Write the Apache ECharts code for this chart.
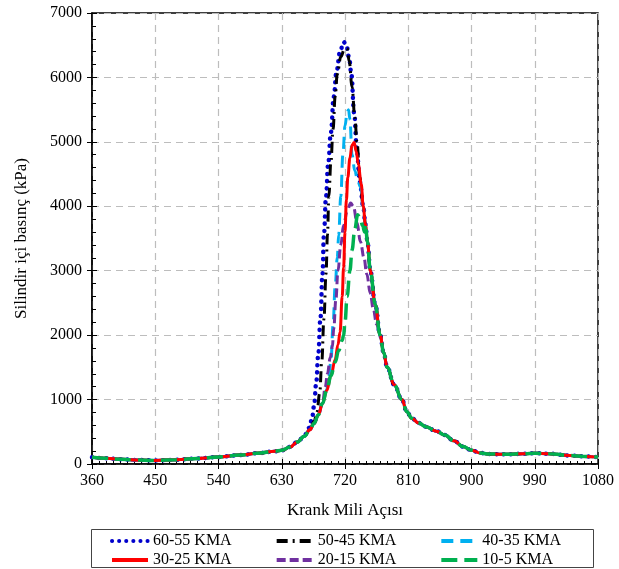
<!DOCTYPE html>
<html>
<head>
<meta charset="utf-8">
<script src="https://cdn.jsdelivr.net/npm/echarts@6/dist/echarts.min.js"></script>
<style>
  html, body { margin: 0; padding: 0; background: #fff; }
  #chart { width: 619px; height: 569px; }
</style>
</head>
<body>
<div id="chart"></div>
<script>
// Crank angle (deg) vs in-cylinder pressure (kPa)
const xTicks = [360, 450, 540, 630, 720, 810, 900, 990, 1080];
const yTicks = [0, 1000, 2000, 3000, 4000, 5000, 6000, 7000];

// Compression stroke shared by all injection timings
const baseRise = [
  [360,104],[380,88],[400,74],[420,63],[450,55],[480,66],[510,86],[540,110],
  [570,138],[600,172],[620,198],[630,212],[642,265],[652,340],[662,430],
  [670,530],[676,630],[682,760],[688,940],[694,1140],[700,1370],[706,1580],
  [711,1760],[716,1920]
];

// Expansion stroke shared by all injection timings
const sharedFall = [
  [746,4000],[749,3720],[752,3450],[756,3000],[763,2480],[770,2000],[775,1730],
  [780,1500],[790,1230],[801,1000],[808,810],[815,710],[825,635],[835,580],
  [850,510],[862,450],[875,360],[888,270],[900,215],[912,172],[925,155],
  [950,150],[975,160],[990,168],[1010,160],[1040,132],[1060,118],[1080,108]
];

// Combustion region of each timing
const peak6055 = [
  [665,470],[669,560],[673,700],[676,900],[679,1250],[682,1700],[685,2250],
  [688,2950],[690,3550],[693,4150],[696,4650],[700,5150],[704,5700],[708,6100],
  [713,6400],[718,6550],[722,6500],[726,6300],[729,6050],[733,5450],[737,4850],
  [741,4380]
];
const peak5045 = [
  [676,660],[680,800],[684,1100],[687,1600],[690,2250],[693,2950],[695,3550],
  [697,4150],[700,4700],[703,5200],[706,5700],[709,6050],[714,6320],[719,6430],
  [723,6450],[726,6250],[730,5850],[734,5380],[737,5000],[741,4450]
];
const peak4035 = [
  [694,1150],[697,1350],[700,1600],[703,2150],[706,2750],[709,3200],[711,3550],
  [714,4150],[717,4800],[720,5250],[723,5450],[725,5500],[727,5350],[730,4800],
  [734,4550],[738,4400],[742,4300]
];
const peak3025 = [
  [700,1370],[706,1620],[710,1850],[713,2050],[716,2600],[718,3050],[720,3600],
  [722,4100],[724,4450],[727,4750],[730,4950],[733,4990],[736,4850],[739,4650],
  [743,4350]
];
const peak2015 = [
  [688,950],[692,1200],[695,1400],[699,1650],[702,1820],[704,2100],[707,2550],
  [710,3000],[714,3400],[718,3700],[723,3920],[728,4050],[732,4000],[737,3750],
  [742,3450],[747,3200],[751,2950],[756,2650],[760,2420],[765,2170]
];
const peak105 = [
  [716,1920],[718,2000],[720,2200],[723,2600],[727,3000],[730,3320],[734,3650],
  [738,3870],[742,3800],[745,3700],[748,3600]
];

function curve(peak) {
  const a = peak[0][0], b = peak[peak.length - 1][0];
  return baseRise.filter(p => p[0] < a).concat(peak, sharedFall.filter(p => p[0] > b));
}

const serif = 'Liberation Serif, Times New Roman, serif';

function lineSeries(name, peak, color, type, width, cap) {
  return {
    name: name,
    type: 'line',
    data: curve(peak),
    showSymbol: false,
    symbol: 'circle',
    symbolSize: 0,
    smooth: 0.4,
    smoothMonotone: 'x',
    xAxisIndex: 0,
    yAxisIndex: 0,
    lineStyle: { color: color, width: width, type: type, cap: cap || 'butt' },
    itemStyle: { color: color }
  };
}

const series = [
  lineSeries('60-55 KMA', peak6055, '#0000CC', [0.1, 7], 4.5, 'round'),
  lineSeries('50-45 KMA', peak5045, '#000000', [11, 5, 2, 5], 3),
  lineSeries('40-35 KMA', peak4035, '#00B0F0', [12, 7], 3),
  lineSeries('20-15 KMA', peak2015, '#7030A0', [9, 4], 3),
  lineSeries('30-25 KMA', peak3025, '#FF0000', 'solid', 3),
  lineSeries('10-5 KMA', peak105, '#00B050', [16, 7], 3.5)
];

const legendCommon = {
  left: 105,
  itemWidth: 36,
  itemHeight: 12,
  itemGap: 43,
  itemStyle: { opacity: 0 },
  lineStyle: { width: 4 },
  textStyle: { fontFamily: serif, fontSize: 16, color: '#000' }
};

const chart = echarts.init(document.getElementById('chart'), null, { renderer: 'canvas' });
chart.setOption({
  animation: false,
  backgroundColor: '#fff',
  grid: {
    left: 92, right: 21, top: 13, bottom: 105,
    show: true, borderColor: '#000', borderWidth: 1.5
  },
  legend: [
    Object.assign({}, legendCommon, { top: 528, data: ['60-55 KMA', '50-45 KMA', '40-35 KMA'] }),
    Object.assign({}, legendCommon, { top: 547, data: ['30-25 KMA', '20-15 KMA', '10-5 KMA'] })
  ],
  graphic: [{
    type: 'rect',
    shape: { x: 91.5, y: 529.5, width: 502, height: 38 },
    style: { fill: 'none', stroke: '#444', lineWidth: 1 },
    silent: true
  }],
  xAxis: [{
    type: 'value',
    min: xTicks[0], max: xTicks[xTicks.length - 1], interval: 90,
    name: 'Krank Mili Açısı',
    nameLocation: 'middle', nameGap: 38,
    nameTextStyle: { fontFamily: serif, fontSize: 17, color: '#000' },
    axisLine: { show: true, onZero: false, lineStyle: { color: '#000', width: 1.5 } },
    axisTick: { show: true, inside: false, length: 5, lineStyle: { color: '#000', width: 1 } },
    axisLabel: { fontFamily: serif, fontSize: 16, color: '#000', margin: 9,
      formatter: v => xTicks.includes(v) ? String(v) : '' },
    splitLine: { show: true, lineStyle: { color: '#BDBDBD', type: [7, 5], width: 1.2 } }
  }, {
    type: 'value', position: 'bottom',
    min: xTicks[0], max: xTicks[xTicks.length - 1], interval: 90,
    axisLine: { show: false },
    axisTick: { show: true, inside: true, length: 5, lineStyle: { color: '#000', width: 1 } },
    minorTick: { show: true, splitNumber: 9, length: 3, lineStyle: { color: '#000', width: 1 } },
    axisLabel: { show: false },
    splitLine: { show: false }
  }],
  yAxis: [{
    type: 'value',
    min: yTicks[0], max: yTicks[yTicks.length - 1], interval: 1000,
    name: 'Silindir içi basınç (kPa)',
    nameLocation: 'middle', nameGap: 62, nameRotate: 90,
    nameTextStyle: { fontFamily: serif, fontSize: 17, color: '#000' },
    axisLine: { show: true, onZero: false, lineStyle: { color: '#000', width: 1.5 } },
    axisTick: { show: true, inside: false, length: 5, lineStyle: { color: '#000', width: 1 } },
    axisLabel: { fontFamily: serif, fontSize: 16, color: '#000', margin: 10,
      formatter: v => yTicks.includes(v) ? String(v) : '' },
    splitLine: { show: true, lineStyle: { color: '#BDBDBD', type: [7, 5], width: 1.2 } }
  }, {
    type: 'value', position: 'left',
    min: yTicks[0], max: yTicks[yTicks.length - 1], interval: 1000,
    axisLine: { show: false },
    axisTick: { show: true, inside: true, length: 5, lineStyle: { color: '#000', width: 1 } },
    minorTick: { show: true, splitNumber: 5, length: 4, lineStyle: { color: '#000', width: 1 } },
    axisLabel: { show: false },
    splitLine: { show: false }
  }],
  series: series
});
</script>
</body>
</html>
